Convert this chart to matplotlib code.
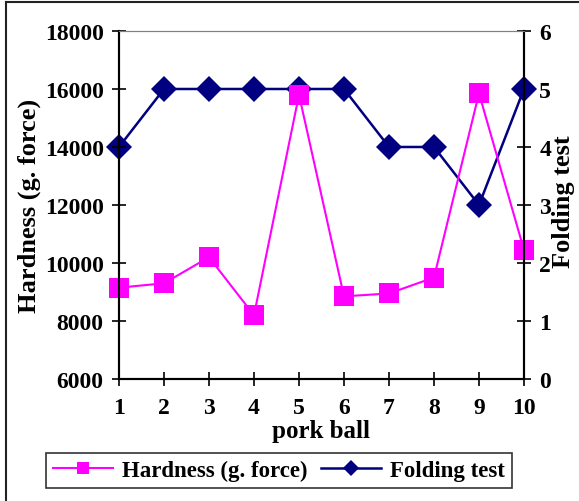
import numpy as np
import matplotlib.pyplot as plt
from matplotlib.lines import Line2D

plt.rcParams['font.family'] = 'Liberation Serif'
plt.rcParams['font.weight'] = 'bold'

balls = [1, 2, 3, 4, 5, 6, 7, 8, 9, 10]
hardness = [9150, 9300, 10200, 8200, 15800, 8850, 8950, 9500, 15850, 10450]
folding = [4, 5, 5, 5, 5, 5, 4, 4, 3, 5]

fig = plt.figure(figsize=(5.79, 5.02), dpi=100)
ax1 = fig.add_axes([0.2055, 0.2430, 0.6995, 0.6933])
ax2 = ax1.twinx()
# hardness series sits above the folding series
ax1.set_zorder(2)
ax1.patch.set_visible(False)

l1, = ax1.plot(balls, hardness, '-s', color='#FF00FF', lw=1.5,
               markersize=15, markeredgewidth=0, label='Hardness (g. force)')
l2, = ax2.plot(balls, folding, '-D', color='#000080', lw=1.8,
               markersize=13, markeredgewidth=0, label='Folding test')
l1.set_clip_on(False)
l2.set_clip_on(False)

ax1.set_xlim(1, 10)
ax1.set_ylim(6000, 18000)
ax2.set_ylim(0, 6)
ax1.set_xticks(balls)
ax1.set_yticks(np.arange(6000, 18001, 2000))
ax2.set_yticks(np.arange(0, 7, 1))

for ax in (ax1, ax2):
    ax.spines['top'].set_color('#808080')
    ax.spines['left'].set_linewidth(1.5)
    ax.spines['right'].set_linewidth(1.5)
    ax.spines['bottom'].set_linewidth(1.5)
    ax.tick_params(direction='inout', length=10, width=1.2, labelsize=17)
ax1.tick_params(axis='y', pad=6)
ax1.tick_params(axis='x', pad=8)
ax2.tick_params(axis='y', pad=6)

ax1.set_xlabel('pork ball', fontsize=18, fontweight='bold', labelpad=1)
ax1.set_ylabel('Hardness (g. force)', fontsize=19, fontweight='bold', labelpad=3)
ax2.set_ylabel('Folding test', fontsize=19, fontweight='bold')
ax2.yaxis.set_label_coords(1.069, 0.511)

leg = fig.legend(handles=[l1, l2], loc='center', bbox_to_anchor=(0.482, 0.061),
                 ncol=2, fontsize=16.5, frameon=True, fancybox=False,
                 edgecolor='black', handlelength=2.6, columnspacing=0.6,
                 handletextpad=0.4, borderpad=0.3, markerscale=0.6)
leg.get_frame().set_linewidth(1.2)
for t in leg.get_texts():
    t.set_fontweight('bold')

# outer frame, only the top and left edges show
fig.add_artist(Line2D([0.0104, 0.0104], [0.0, 0.994], color='#222222', lw=1.5,
                      transform=fig.transFigure))
fig.add_artist(Line2D([0.0104, 1.0], [0.994, 0.994], color='#222222', lw=1.5,
                      transform=fig.transFigure))

fig.savefig('out.png', dpi=100)
